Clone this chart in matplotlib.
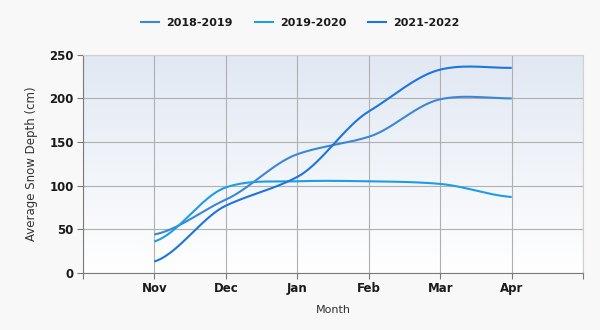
import numpy as np
import matplotlib
matplotlib.use("Agg")
import matplotlib.pyplot as plt
from matplotlib.colors import LinearSegmentedColormap

# Monthly average snow depth per season (cm)
months = ["Nov", "Dec", "Jan", "Feb", "Mar", "Apr"]
seasons = ["2018-2019", "2019-2020", "2021-2022"]
depth_2018_2019 = [44, 84, 136, 156, 199, 200]
depth_2019_2020 = [36, 98, 105, 105, 102, 87]
depth_2021_2022 = [13, 77, 110, 185, 233, 235]
colors = ["#3b87d6", "#1e9ce6", "#1c76dc"]


def smooth(xs, ys, n=40):
    """Catmull-Rom style spline through the points."""
    xs = np.asarray(xs, float)
    ys = np.asarray(ys, float)
    px = np.concatenate([[2 * xs[0] - xs[1]], xs, [2 * xs[-1] - xs[-2]]])
    py = np.concatenate([[ys[0]], ys, [ys[-1]]])
    out_x, out_y = [], []
    for i in range(1, len(px) - 2):
        t = np.linspace(0, 1, n)
        p0, p1, p2, p3 = py[i - 1], py[i], py[i + 1], py[i + 2]
        m1 = (p2 - p0) / 2 * 0.8
        m2 = (p3 - p1) / 2 * 0.8
        h00 = 2 * t**3 - 3 * t**2 + 1
        h10 = t**3 - 2 * t**2 + t
        h01 = -2 * t**3 + 3 * t**2
        h11 = t**3 - t**2
        out_y.append(h00 * p1 + h10 * m1 + h01 * p2 + h11 * m2)
        out_x.append(px[i] + t * (px[i + 1] - px[i]))
    return np.concatenate(out_x), np.concatenate(out_y)


fig = plt.figure(figsize=(6, 3.3), dpi=100, facecolor="#f8f8f8")
ax = fig.add_axes([0.138, 0.173, 0.834, 0.661])

# vertical gradient behind the plot
grad = LinearSegmentedColormap.from_list("bg", ["#ffffff", "#e1e8f3"])
ax.imshow(np.linspace(0, 1, 256).reshape(-1, 1), cmap=grad, origin="lower",
          extent=[0, 7, 0, 250], aspect="auto", zorder=0)

x = np.arange(1, len(months) + 1)
for label, vals, c in zip(seasons, [depth_2018_2019, depth_2019_2020, depth_2021_2022], colors):
    sx, sy = smooth(x, vals)
    ax.plot(sx, sy, color=c, lw=1.5, label=label, zorder=3, solid_capstyle="butt")

ax.set_xlim(0, 7)
ax.set_ylim(0, 250)
ax.set_xticks(list(range(0, 8)))
ax.set_xticklabels([""] + months + [""])
ax.set_yticks(range(0, 251, 50))
ax.grid(True, color="#b0b0b0", lw=0.8, zorder=1)
ax.set_axisbelow(True)
for side in ["left", "bottom"]:
    ax.spines[side].set_color("#7a7a7a")
for side in ["top", "right"]:
    ax.spines[side].set_color("#d0d0d0")
ax.tick_params(colors="#7a7a7a", labelcolor="#1a1a1a", labelsize=8.5, length=4, pad=2.5)
for lbl in ax.get_xticklabels() + ax.get_yticklabels():
    lbl.set_fontweight("semibold")

ax.set_xlabel("Month", fontsize=8, color="#333333", labelpad=7)
ax.set_ylabel("Average Snow Depth (cm)", fontsize=8.5, color="#333333", labelpad=8)

leg = fig.legend(loc="upper center", bbox_to_anchor=(0.5, 0.975), ncol=3, frameon=False,
                 fontsize=8, handlelength=1.8, columnspacing=1.9, handletextpad=0.55)
for t in leg.get_texts():
    t.set_fontweight("semibold")
    t.set_color("#1a1a1a")

fig.savefig("out.png", dpi=100, facecolor=fig.get_facecolor())
